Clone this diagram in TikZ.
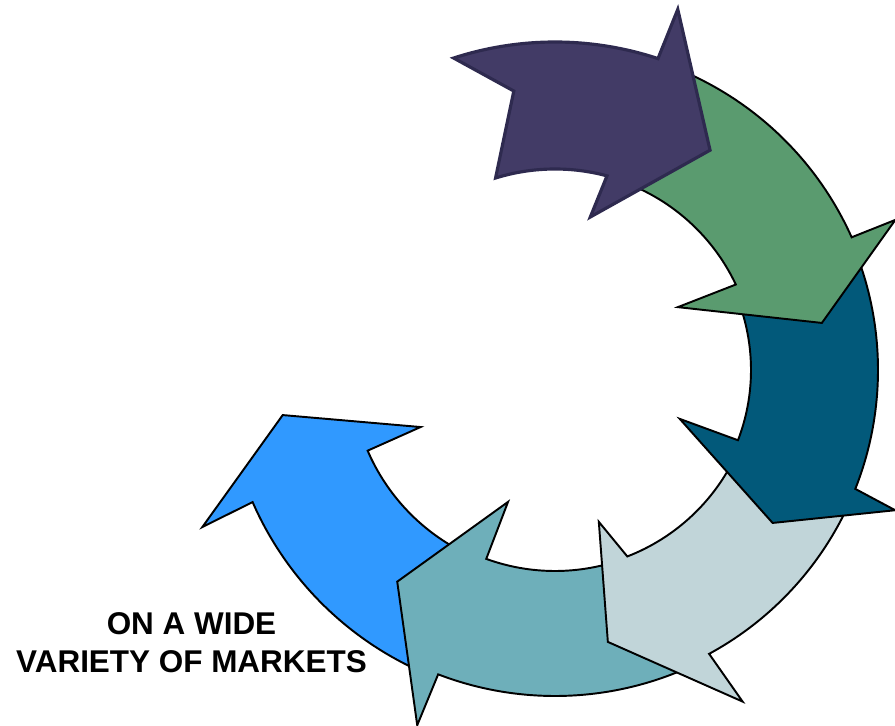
\documentclass[tikz,border=0pt]{standalone}
\usepackage{fontspec}
\setsansfont{Liberation Sans}
\usepackage{tikz}
\usetikzlibrary{positioning}

\definecolor{plum}{HTML}{423B66}
\definecolor{plumline}{HTML}{2E2A4F}
\definecolor{sage}{HTML}{5A9B6F}
\definecolor{petrol}{HTML}{02597A}
\definecolor{mist}{HTML}{C1D5D9}
\definecolor{lagoon}{HTML}{6EAFBA}
\definecolor{skyblue}{HTML}{3099FF}

\begin{document}
\begin{tikzpicture}[x=0.02cm, y=-0.02cm]
        \tikzstyle{ring arrow}=[draw=black, line width=1.1pt, line join=miter]
        \useasboundingbox (-555,-370) rectangle (340,356);

        % each head lies over the tail of the next arrow
        \draw[ring arrow, fill=skyblue] (115:330)
            arc[start angle=115, end angle=156.4, radius=330]
            -- (156:386) -- (170.6:276) -- (157:146) -- (156.7:204)
            arc[start angle=156.7, end angle=117, radius=204]
            -- (121:265) -- cycle;

        \draw[ring arrow, fill=lagoon] (66:326)
            arc[start angle=66, end angle=111, radius=326]
            -- (111.2:381) -- (126.7:264) -- (109.6:140) -- (110:201)
            arc[start angle=110, end angle=70, radius=201]
            -- (73:263) -- cycle;

        \draw[ring arrow, fill=mist] (25:323)
            arc[start angle=25, end angle=61.5, radius=323]
            -- (60.5:381) -- (79:277) -- (73.9:158) -- (68.8:200)
            arc[start angle=68.8, end angle=25, radius=200]
            -- (32:263) -- cycle;

        \draw[ring arrow, fill=petrol] (-20:323)
            arc[start angle=-20, end angle=21.6, radius=323]
            -- (22.4:368) -- (35.1:266) -- (21.4:134) -- (21:196)
            arc[start angle=21, end angle=-20, radius=196]
            -- (-13:263) -- cycle;

        \draw[ring arrow, fill=sage] (-74:325)
            arc[start angle=-74, end angle=-24.1, radius=325]
            -- (-23.8:372) -- (-10:271) -- (-27.1:138) -- (-25.3:200)
            arc[start angle=-25.3, end angle=-74, radius=200]
            -- (-66:263) -- cycle;

        \draw[ring arrow, draw=plumline, line width=1.8pt, fill=plum] (-108:328)
            arc[start angle=-108, end angle=-71.7, radius=328]
            -- (-71.2:381) -- (-54.8:269) -- (-77:157) -- (-75:201)
            arc[start angle=-75, end angle=-107.2, radius=201]
            -- (-98.4:282) -- cycle;

        \node[font=\sffamily\bfseries\fontsize{17.9}{21.5}\selectfont, align=center,
            inner sep=0pt] (markets) at (-363.5,273) {ON A WIDE\\VARIETY OF MARKETS};
\end{tikzpicture}
\end{document}
